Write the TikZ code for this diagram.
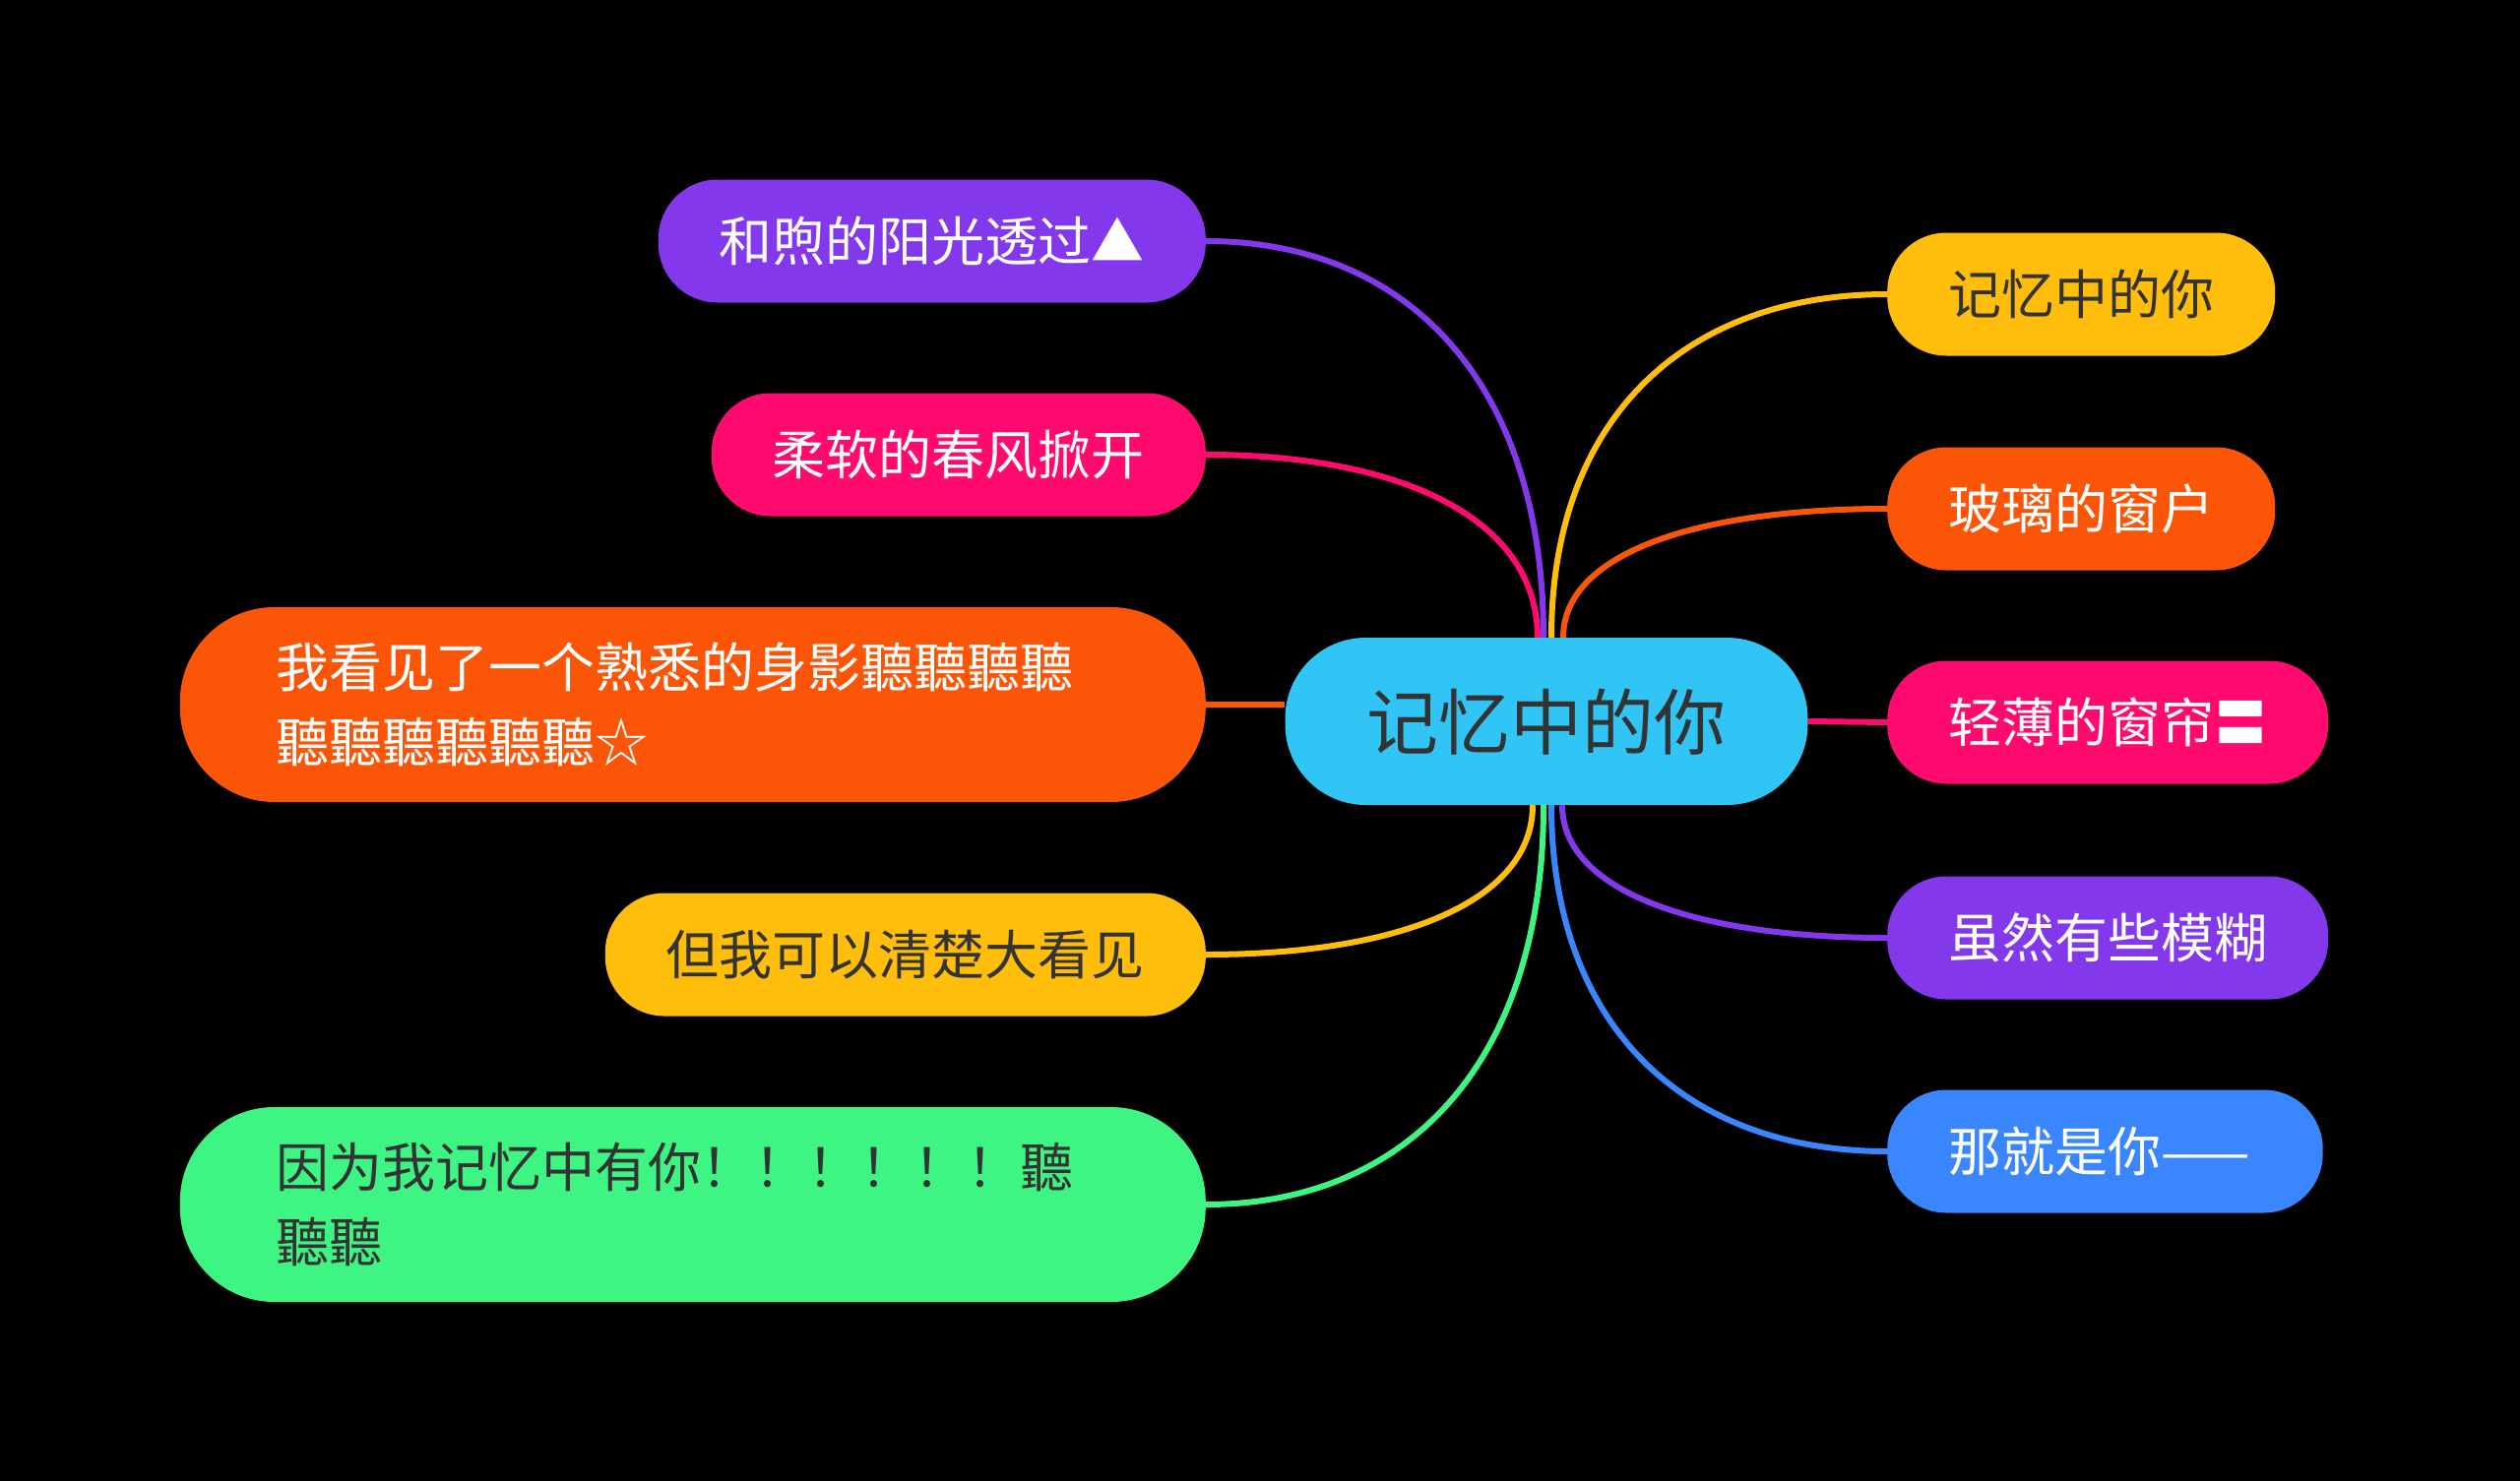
\documentclass[tikz,border=0pt]{standalone}
\usepackage{fontspec}
\newfontfamily\cjk{Noto Sans CJK SC}
\usepackage{tikz}
\definecolor{hubblue}{HTML}{30C5F5}
\definecolor{mpurple}{HTML}{8338EC}
\definecolor{mpink}{HTML}{FF0A6E}
\definecolor{morange}{HTML}{FB5607}
\definecolor{myellow}{HTML}{FFBE0B}
\definecolor{mgreen}{HTML}{3EF584}
\definecolor{mblue}{HTML}{3A86FF}
\definecolor{darktext}{HTML}{333333}

\begin{document}
\begin{tikzpicture}[x=1pt, y=-1pt,
    hub/.style={fill=hubblue, text=darktext, rounded corners=82pt,
      minimum height=170pt, inner xsep=83pt, inner ysep=0pt,
      text height=61pt, text depth=5pt, font=\cjk\fontsize{73}{80}\selectfont},
    leaf/.style={rounded corners=60pt, minimum height=125pt,
      inner xsep=62pt, inner ysep=0pt,
      text height=45pt, text depth=4pt, font=\cjk\fontsize{54}{74}\selectfont},
    bigleaf/.style={rounded corners=96pt, minimum height=198pt,
      text width=846pt, align=left, inner xsep=98pt, inner ysep=0pt,
      font=\cjk\fontsize{54}{76}\selectfont},
    link/.style={line width=6pt}]
  \fill[black] (0,0) rectangle (2560,1505);

  \node[hub] (hub) at (1571,733) {记忆中的你};

  \node[leaf, fill=mpurple, text=white, anchor=east] (n1) at (1225,245) {和煦的阳光透过▲};
  \node[leaf, fill=mpink, text=white, anchor=east] (n2) at (1225,462) {柔软的春风掀开};
  \node[bigleaf, fill=morange, text=white, anchor=east] (n3) at (1225,716)
    {我看见了一个熟悉的身影聽聽聽聽\\聽聽聽聽聽聽☆};
  \node[leaf, fill=myellow, text=darktext, anchor=east] (n4) at (1225,970) {但我可以清楚大看见};
  \node[bigleaf, fill=mgreen, text=darktext, anchor=east] (n5) at (1225,1224)
    {因为我记忆中有你！！！！！！聽\\聽聽};

  \node[leaf, fill=myellow, text=darktext, anchor=west] (m1) at (1917,299) {记忆中的你};
  \node[leaf, fill=morange, text=white, anchor=west] (m2) at (1917,517) {玻璃的窗户};
  \node[leaf, fill=mpink, text=white, anchor=west] (m3) at (1917,734) {轻薄的窗帘〓};
  \node[leaf, fill=mpurple, text=white, anchor=west] (m4) at (1917,953) {虽然有些模糊};
  \node[leaf, fill=mblue, text=white, anchor=west] (m5) at (1917,1170) {那就是你——\kern12pt};

  \draw[link, mpurple] ([xshift=-3pt]hub.north) .. controls +(0,-258) and +(206,0) .. (n1.east);
  \draw[link, mpink] ([xshift=-9pt]hub.north) .. controls +(0,-119) and +(202,0) .. (n2.east);
  \draw[link, morange] (n3.east) -- (n3.east -| hub.west);
  \draw[link, myellow] ([xshift=-14pt]hub.south) .. controls +(0,97) and +(199,0) .. (n4.east);
  \draw[link, mgreen] ([xshift=-3pt]hub.south) .. controls +(0,260) and +(206,0) .. (n5.east);

  \draw[link, myellow] ([xshift=5pt]hub.north) .. controls +(0,-223) and +(-205,0) .. (m1.west);
  \draw[link, morange] ([xshift=17pt]hub.north) .. controls +(0,-84) and +(-197,0) .. (m2.west);
  \draw[link, mpink] (hub.east) -- (m3.west);
  \draw[link, mpurple] ([xshift=16pt]hub.south) .. controls +(0,86) and +(-198,0) .. (m4.west);
  \draw[link, mblue] ([xshift=5pt]hub.south) .. controls +(0,225) and +(-205,0) .. (m5.west);
\end{tikzpicture}
\end{document}
